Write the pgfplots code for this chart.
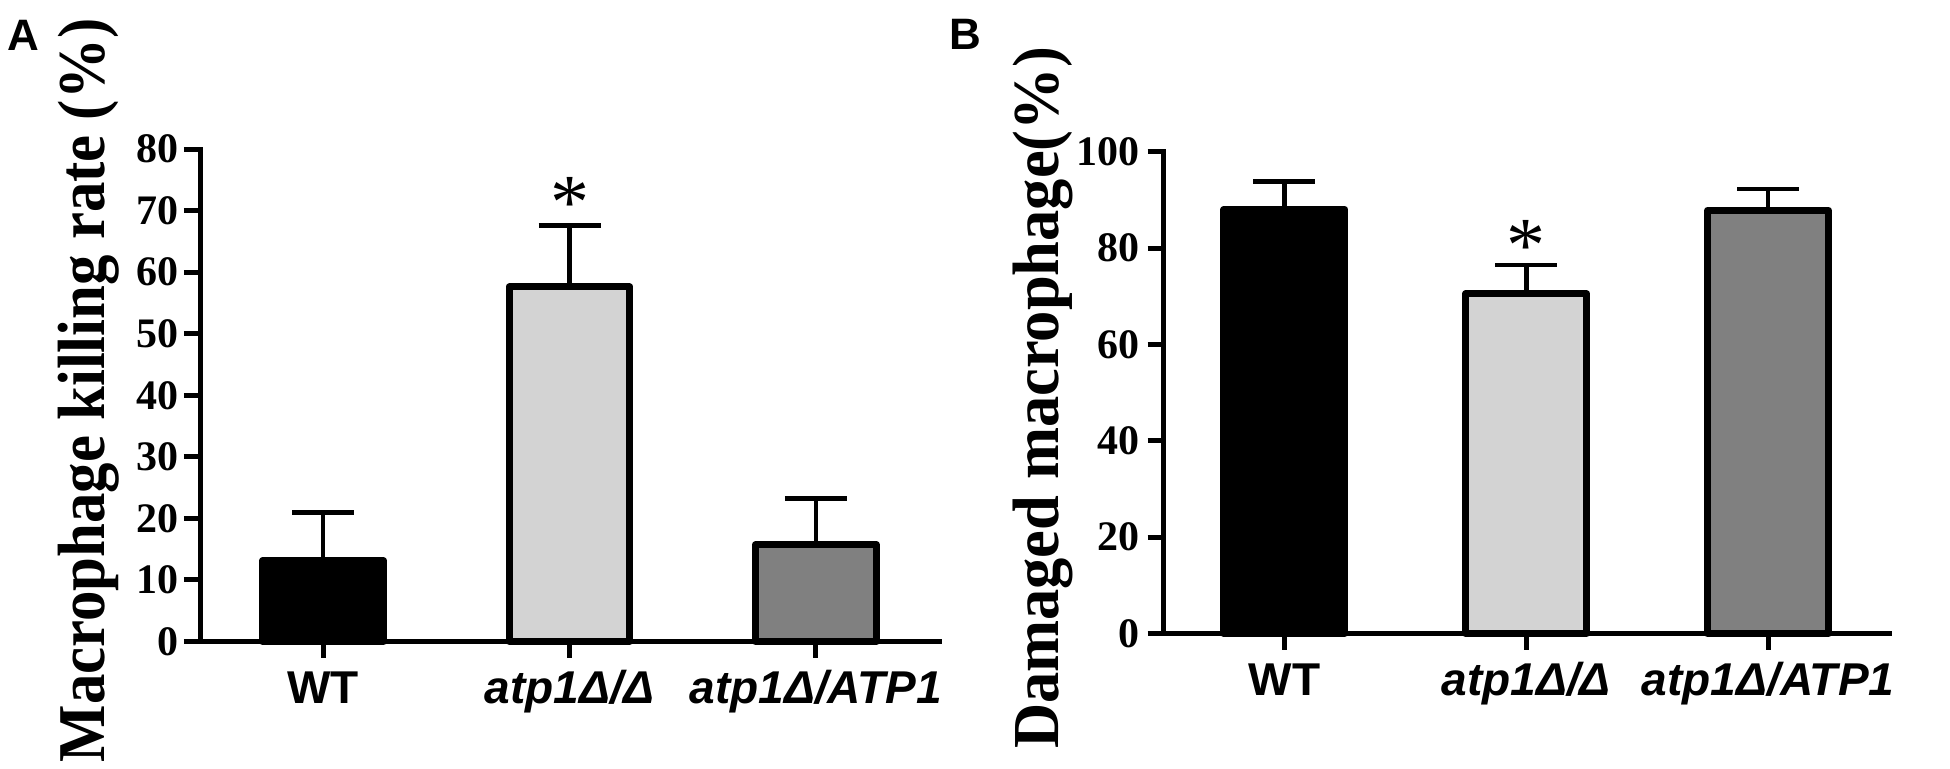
\documentclass[border=0pt]{standalone}
\usepackage{fontspec}
\setmainfont{Liberation Serif}
\setsansfont{Liberation Sans}
\usepackage{pgfplots}
\pgfplotsset{compat=1.18}
\definecolor{lgray}{HTML}{D3D3D3}
\definecolor{dgray}{HTML}{808080}
\pgfplotsset{
  gpstyle/.style={
    scale only axis,
    anchor=south west,
    axis x line*=bottom,
    axis y line*=left,
    axis line style={line width=2.5pt,-,line cap=rect},
    xmin=-0.5, xmax=2.5,
    ymin=0,
    xtick={0,1,2},
    xticklabels={WT,\textit{atp1Δ/Δ},\textit{atp1Δ/ATP1}},
    xticklabel style={font=\sffamily\bfseries\fontsize{23}{23}\selectfont,inner sep=0pt,text height=16.5pt,text depth=0pt,anchor=north,yshift=-6.25pt},
    yticklabel style={font=\bfseries\fontsize{21}{21}\selectfont,inner sep=0pt,anchor=east},
    /pgf/number format/assume math mode=true,
    clip=false,
    ylabel style={rotate=0,anchor=base,inner sep=0pt},
    xtick align=outside, ytick align=outside,
    xtick pos=left, ytick pos=left,
    major tick length=8pt,
    every major tick/.style={draw=black,line width=2.5pt},
  },
  gpbar/.style={ybar,bar shift=0pt,draw=black,line width=3.5pt,line join=round,fill=#1,
    error bars/y dir=plus, error bars/y explicit, error bars/error mark=-,
    error bars/error bar style={line width=2.3pt,black},
    error bars/error mark options={rotate=90,line width=2.3pt,mark size=15.5pt,black}},
}
\begin{document}
\begin{tikzpicture}
\path[use as bounding box] (0,0) rectangle (975pt,384pt);
\node[font=\sffamily\bfseries\fontsize{22}{22}\selectfont,inner sep=0pt,anchor=base west] at (3.5pt,359pt) {A};
\node[font=\sffamily\bfseries\fontsize{22}{22}\selectfont,inner sep=0pt,anchor=base west] at (474.5pt,359.3pt) {B};
% Panel A
\begin{axis}[gpstyle,
  at={(100pt,63.25pt)}, width=369.5pt, height=246.25pt,
  ymax=80, ytick={0,10,...,80},
  yticklabel style={xshift=-2.5pt},
  bar width=0.49,
  ylabel={\scalebox{1}[1.1]{\bfseries\fontsize{30.4}{30.4}\selectfont Macrophage killing rate (\%)}},
  ylabel style={at={(axis description cs:-0.1286,0.5096)}},
]
\addplot[gpbar=black,forget plot] coordinates {(0,13.1) +- (0,7.9)};
\addplot[gpbar=lgray,forget plot] coordinates {(1,57.6) +- (0,10.0)};
\addplot[gpbar=dgray,forget plot] coordinates {(2,15.7) +- (0,7.5)};
\node[font=\fontsize{39}{39}\selectfont,inner sep=0pt,anchor=base] at (axis cs:1,67.1) {*};
\end{axis}
% Panel B
\begin{axis}[gpstyle,
  at={(581.75pt,67.25pt)}, width=362.75pt, height=240.9pt,
  ymax=100, ytick={0,20,...,100},
  yticklabel style={xshift=-3.75pt},
  bar width=0.5,
  ylabel={\scalebox{1}[1.05]{\bfseries\fontsize{31.25}{31.25}\selectfont Damaged macrophage(\%)}},
  ylabel style={at={(axis description cs:-0.1454,0.4888)}},
]
\addplot[gpbar=black,forget plot] coordinates {(0,88.0) +- (0,5.8)};
\addplot[gpbar=lgray,forget plot] coordinates {(1,70.5) +- (0,6.0)};
\addplot[gpbar=dgray,forget plot] coordinates {(2,87.8) +- (0,4.5)};
\node[font=\fontsize{39}{39}\selectfont,inner sep=0pt,anchor=base] at (axis cs:1,75.1) {*};
\end{axis}
\end{tikzpicture}
\end{document}
